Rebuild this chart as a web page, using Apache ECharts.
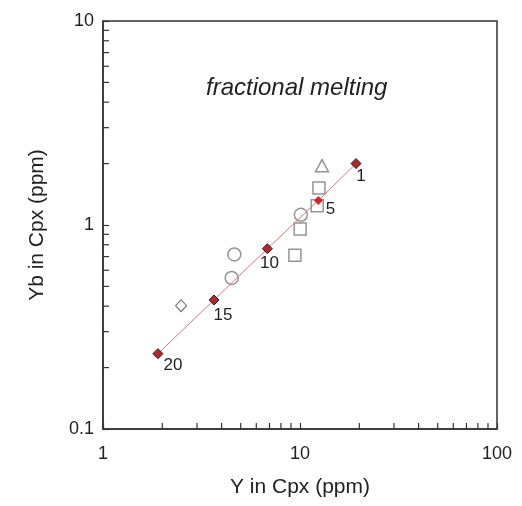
<!DOCTYPE html>
<html>
<head>
<meta charset="utf-8">
<script src="https://cdn.jsdelivr.net/npm/echarts@6/dist/echarts.min.js"></script>
<style>
    html, body { margin: 0; padding: 0; background: #fff; }
    #main { width: 522px; height: 506px; }
</style>
</head>
<body>
<div id="main"></div>
<script>
// 模型曲线 (fractional melting)
var modelY = [1.9, 3.66, 6.83, 12.4, 19.25];
var modelYb = [0.234, 0.429, 0.765, 1.32, 2.0];
var modelLabels = ['20', '15', '10', '5', '1'];
// 样品点
var circleY = [10.1, 4.64, 4.5];
var circleYb = [1.122, 0.717, 0.55];
var squareY = [12.48, 12.23, 10.02, 9.42];
var squareYb = [1.518, 1.243, 0.955, 0.71];
var triangleY = [12.93];
var triangleYb = [1.953];
var diamondY = [2.49];
var diamondYb = [0.402];
// 次刻度
var xMinorTicks = [2, 3, 4, 5, 6, 7, 8, 9, 20, 30, 40, 50, 60, 70, 80, 90];
var yMinorTicks = [0.2, 0.3, 0.4, 0.5, 0.6, 0.7, 0.8, 0.9, 2, 3, 4, 5, 6, 7, 8, 9];

(function(){
    var myChart = echarts.init(document.getElementById("main"))
    var font = "'Liberation Sans', Arial, sans-serif";
    var labelOffsets = [[15, 12], [9, 15], [2, 15], [12, 9], [5, 13]];

    function pairs(xs, ys) {
        return xs.map(function (x, i) { return [x, ys[i]]; });
    }

    var modelData = modelY.map(function (x, i) {
        var item = {
            value: [x, modelYb[i]],
            name: modelLabels[i],
            label: { offset: labelOffsets[i] }
        };
        if (modelLabels[i] === '5') {
            item.itemStyle = { color: '#d6262b', borderWidth: 0 };
            item.symbolSize = 9;
        }
        return item;
    });

    function tickSeries(values, isX) {
        return {
            type: 'custom',
            silent: true,
            z: 5,
            data: values,
            renderItem: function (params, api) {
                var v = api.value(0);
                var p = isX ? api.coord([v, 0.1]) : api.coord([1, v]);
                var end = isX ? [p[0], p[1] - 6] : [p[0] + 6, p[1]];
                return {
                    type: 'line',
                    shape: { x1: p[0], y1: p[1], x2: end[0], y2: end[1] },
                    style: { stroke: '#333', lineWidth: 1.2 }
                };
            }
        };
    }

    var openStyle = { color: 'rgba(255,255,255,0)', borderColor: '#7a7a7a', borderWidth: 1.5 };

    option = {
        animation: false,
        textStyle: { fontFamily: font },
        title: {
            text: 'fractional melting',
            left: 201,
            top: 71,
            textStyle: {
                fontFamily: font,
                fontStyle: 'italic',
                fontWeight: 'normal',
                fontSize: 24,
                color: '#222'
            }
        },
        grid: {
            left: 103,
            right: 25,
            top: 21,
            bottom: 77,
            show: true,
            borderColor: '#333',
            borderWidth: 1.5
        },
        xAxis: {
            type: 'log',
            logBase: 10,
            min: 1,
            max: 100,
            name: 'Y in Cpx (ppm)',
            nameLocation: 'middle',
            nameGap: 48,
            nameTextStyle: { fontSize: 21, color: '#222', fontFamily: font },
            axisLine: { lineStyle: { color: '#333', width: 1.5 } },
            axisTick: { inside: true, length: 6, lineStyle: { color: '#333', width: 1.2 } },
            axisLabel: { fontSize: 18, color: '#222', margin: 16, fontFamily: font },
            splitLine: { show: false }
        },
        yAxis: {
            type: 'log',
            logBase: 10,
            min: 0.1,
            max: 10,
            name: 'Yb in Cpx (ppm)',
            nameLocation: 'middle',
            nameGap: 55,
            nameTextStyle: { fontSize: 21, color: '#222', fontFamily: font },
            axisLine: { lineStyle: { color: '#333', width: 1.5 } },
            axisTick: { inside: true, length: 6, lineStyle: { color: '#333', width: 1.2 } },
            axisLabel: { fontSize: 18, color: '#222', margin: 9, fontFamily: font },
            splitLine: { show: false }
        },
        series: [
            tickSeries(xMinorTicks, true),
            tickSeries(yMinorTicks, false),
            {
                name: 'circle',
                type: 'scatter',
                symbol: 'circle',
                symbolSize: 13,
                itemStyle: openStyle,
                data: pairs(circleY, circleYb)
            },
            {
                name: 'square',
                type: 'scatter',
                symbol: 'rect',
                symbolSize: 12,
                itemStyle: openStyle,
                data: pairs(squareY, squareYb)
            },
            {
                name: 'triangle',
                type: 'scatter',
                symbol: 'triangle',
                symbolSize: [13, 12],
                itemStyle: openStyle,
                data: pairs(triangleY, triangleYb)
            },
            {
                name: 'diamond',
                type: 'scatter',
                symbol: 'diamond',
                symbolSize: [11, 12],
                itemStyle: { color: 'rgba(255,255,255,0)', borderColor: '#444', borderWidth: 1 },
                data: pairs(diamondY, diamondYb)
            },
            {
                name: 'model',
                type: 'line',
                z: 10,
                symbol: 'diamond',
                symbolSize: 10,
                showAllSymbol: true,
                lineStyle: { color: '#e37474', width: 1 },
                itemStyle: { color: '#b3272a', borderColor: '#222', borderWidth: 1 },
                label: {
                    show: true,
                    position: 'inside',
                    formatter: '{b}',
                    fontSize: 17,
                    color: '#222',
                    fontFamily: font
                },
                data: modelData
            }
        ]
    };
    myChart.setOption(option)
})()
</script>
</body>
</html>
